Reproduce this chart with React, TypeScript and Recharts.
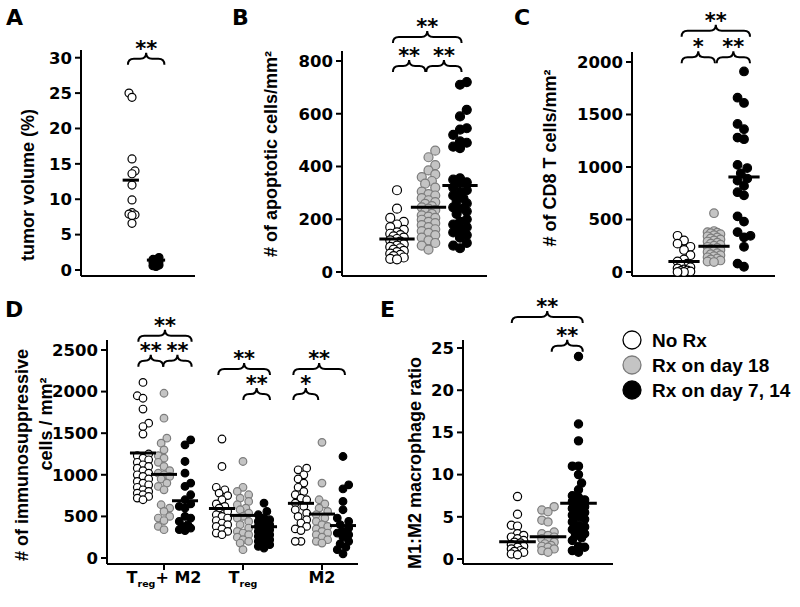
import React from 'react';
import { ScatterChart, Scatter, XAxis, YAxis, ReferenceLine } from 'recharts';

const FONT = 'DejaVu Sans, sans-serif';
const ARIAL = 'Liberation Sans, Arial, sans-serif';

// ---- legend / groups ----
const GROUP_NAMES = ['No Rx', 'Rx on day 18', 'Rx on day 7, 14'];
const FILLS = ['#ffffff', '#c4c4c4', '#000000'];
const STROKES = ['#000000', '#7c7c7c', '#000000'];

// ---- Panel A: tumor volume (%) ----
const A_NO_RX = [25.0, 24.4, 15.7, 14.0, 13.6, 12.0, 9.9, 8.1, 7.9, 7.8, 7.7, 6.6];
const A_RX_7_14 = [1.75, 1.5, 1.4, 1.2, 1.1, 0.9, 0.7, 0.6, 0.5];
const A_MEANS = [12.7, 1.4];
const A_TICKS = [0, 5, 10, 15, 20, 25, 30];

// ---- Panel B: apoptotic cells ----
const B_NO_RX = [310, 240, 205, 190, 180, 170, 160, 150, 145, 140, 135, 130, 125, 120, 115, 110, 105, 100, 95, 90, 85, 80, 75, 70, 65, 60, 55, 50, 48];
const B_RX18 = [460, 435, 405, 385, 370, 360, 345, 335, 320, 305, 295, 290, 280, 272, 265, 258, 250, 245, 240, 235, 228, 220, 215, 210, 205, 198, 190, 185, 178, 170, 162, 155, 148, 140, 130, 120, 110, 100, 85];
const B_RX_7_14 = [720, 710, 615, 590, 545, 540, 520, 495, 490, 475, 470, 355, 350, 340, 335, 320, 310, 300, 290, 280, 270, 260, 245, 240, 230, 220, 200, 190, 180, 170, 160, 150, 140, 130, 110, 100, 90];
const B_MEANS = [125, 245, 328];
const B_TICKS = [0, 200, 400, 600, 800];

// ---- Panel C: CD8 T cells ----
const C_NO_RX = [345, 300, 270, 240, 210, 160, 120, 100, 80, 60, 45, 35, 25, 15, 10, 5, 0, 0];
const C_RX18 = [560, 390, 380, 375, 370, 360, 350, 340, 330, 320, 310, 300, 290, 280, 270, 260, 250, 240, 230, 220, 210, 200, 190, 180, 170, 160, 150, 140, 130, 120, 110, 100, 95];
const C_RX_7_14 = [1910, 1660, 1610, 1410, 1360, 1280, 1265, 1020, 990, 940, 890, 870, 820, 760, 730, 530, 480, 380, 345, 330, 240, 80, 50];
const C_MEANS = [100, 245, 905];
const C_TICKS = [0, 500, 1000, 1500, 2000];

// ---- Panel D: immunosuppressive cells ----
const D_CATEGORIES = ['Treg+M2', 'Treg', 'M2'];
const D_TM_NO_RX = [2110, 1950, 1920, 1790, 1620, 1580, 1490, 1250, 1230, 1200, 1180, 1150, 1120, 1100, 1080, 1050, 1020, 1000, 980, 950, 920, 900, 880, 850, 820, 800, 780, 760, 740, 720, 700];
const D_TM_RX18 = [1980, 1680, 1440, 1380, 1300, 1230, 1200, 1150, 1100, 1050, 1020, 1000, 980, 950, 900, 860, 820, 640, 600, 560, 500, 480, 450, 380, 340];
const D_TM_RX_7_14 = [1420, 1360, 1160, 1020, 900, 860, 760, 700, 650, 620, 600, 500, 480, 440, 400, 380, 360, 340, 330];
const D_T_NO_RX = [1430, 1100, 850, 820, 780, 750, 700, 650, 620, 600, 560, 520, 500, 480, 450, 420, 400, 380, 350, 320, 300, 280];
const D_T_RX18 = [1160, 850, 800, 760, 720, 680, 640, 600, 580, 540, 500, 480, 440, 400, 360, 320, 300, 280, 250, 220, 200, 180, 100];
const D_T_RX_7_14 = [660, 560, 520, 480, 460, 440, 420, 400, 380, 360, 340, 320, 300, 280, 260, 240, 220, 200, 180, 160, 140, 120];
const D_M_NO_RX = [1080, 1060, 1000, 950, 900, 850, 800, 760, 720, 700, 660, 620, 580, 540, 500, 460, 420, 380, 350, 330, 200, 200];
const D_M_RX18 = [1390, 900, 700, 650, 600, 560, 520, 480, 440, 400, 380, 350, 320, 300, 280, 250, 220, 200, 180];
const D_M_RX_7_14 = [1220, 880, 830, 680, 580, 480, 440, 400, 360, 320, 300, 280, 250, 200, 170, 130, 100, 50];
const D_TM_MEANS = [1262, 1005, 688];
const D_T_MEANS = [595, 512, 376];
const D_M_MEANS = [657, 528, 390];
const D_TICKS = [0, 500, 1000, 1500, 2000, 2500];

// ---- Panel E: M1:M2 ratio ----
const E_NO_RX = [7.4, 5.3, 4.0, 3.9, 3.0, 2.8, 2.6, 2.4, 2.2, 2.0, 1.9, 1.7, 1.5, 1.4, 1.2, 1.0, 0.9, 0.8, 0.6, 0.5];
const E_RX18 = [6.2, 5.8, 5.6, 4.6, 4.4, 3.2, 3.0, 2.8, 2.6, 2.4, 2.2, 2.0, 1.8, 1.6, 1.5, 1.4, 1.2, 1.0, 0.8];
const E_RX_7_14 = [24, 16, 14, 11, 11, 10, 9, 8.2, 7.5, 7.3, 7, 6.8, 6.5, 6.2, 6, 5.8, 5.5, 5.2, 5, 4.7, 4.4, 4, 3.8, 3.5, 3.3, 3, 2.8, 2.5, 2.2, 1.5, 1.4, 1, 0.8];
const E_MEANS = [2.05, 2.64, 6.6];
const E_TICKS = [0, 5, 10, 15, 20, 25];

type Group = { x: number; values: number[]; kind: number };
type Mean = { x: number; value: number; half: number };
type Brace = { from: number; to: number; level: number; label: string };
interface PanelCfg {
  left: number; top: number; width: number; height: number;
  yAxisWidth: number; marginTop: number; marginRight: number; marginBottom: number; xAxisHeight: number;
  xDomain: [number, number]; yDomain: [number, number]; yTicks: number[]; xTicks: number[];
  xLabels?: boolean; groups: Group[]; means: Mean[]; braces: Brace[]; r: number; maxOff: number;
}

function swarm(vals: number[], pxY: number, r: number, maxOff: number): number[] {
  const idx = vals.map((_, i) => i).sort((a, b) => vals[a] - vals[b]);
  const placed: { x: number; y: number }[] = [];
  const out = new Array(vals.length).fill(0);
  const d = 1.8 * r;
  const step = r * 0.75;
  idx.forEach((i, n) => {
    const y = vals[i] * pxY;
    const sgn = n % 2 === 0 ? 1 : -1;
    const cands = [0];
    for (let k = 1; k * step <= maxOff + 0.01; k++) cands.push(sgn * k * step, -sgn * k * step);
    let best = 0, bestScore = -Infinity;
    for (const x of cands) {
      let minD = Infinity;
      for (const p of placed) { const dd = Math.hypot(p.x - x, p.y - y); if (dd < minD) minD = dd; }
      if (minD >= d) { best = x; break; }
      if (minD > bestScore) { bestScore = minD; best = x; }
    }
    placed.push({ x: best, y });
    out[i] = best;
  });
  return out;
}

const dot = (kind: number, r: number) => (p: any) => (
  <circle cx={p.cx} cy={p.cy} r={r} fill={FILLS[kind]} stroke={STROKES[kind]} strokeWidth={1.2} />
);

const braceShape = (label: string) => (p: any) => {
  const xa = Math.min(p.x1, p.x2), xb = Math.max(p.x1, p.x2);
  const yb = p.y1;
  const h = 12, q = 6;
  const xm = (xa + xb) / 2, ym = yb - h / 2, yt = yb - h;
  const d = `M${xa},${yb} Q${xa},${ym} ${xa + q},${ym} L${xm - q},${ym} Q${xm},${ym} ${xm},${yt} Q${xm},${ym} ${xm + q},${ym} L${xb - q},${ym} Q${xb},${ym} ${xb},${yb}`;
  return (
    <g>
      <path d={d} fill="none" stroke="#000" strokeWidth={2} />
      <text x={xm} y={yt + 3} textAnchor="middle" fontFamily={FONT} fontWeight="bold" fontSize={21} fill="#000">{label}</text>
    </g>
  );
};

const tickStyle = { fill: '#000', fontSize: 16.5, fontWeight: 'bold', fontFamily: FONT };
const axisStyle = { stroke: '#000', strokeWidth: 2 };

const DTick = (p: any) => {
  const i = Math.round(p.payload.value);
  const y = p.y + 11;
  if (i === 0) return (
    <text x={p.x} y={y} textAnchor="middle" fontFamily={FONT} fontWeight="bold" fontSize={16} fill="#000">
      <tspan>T</tspan><tspan fontSize={9.5} dy={4}>reg</tspan><tspan dy={-4}>+ M2</tspan>
    </text>
  );
  if (i === 1) return (
    <text x={p.x} y={y} textAnchor="middle" fontFamily={FONT} fontWeight="bold" fontSize={16} fill="#000">
      <tspan>T</tspan><tspan fontSize={9.5} dy={4}>reg</tspan>
    </text>
  );
  return (
    <text x={p.x} y={y} textAnchor="middle" fontFamily={FONT} fontWeight="bold" fontSize={16} fill="#000">{D_CATEGORIES[i]}</text>
  );
};

function Panel({ cfg }: { cfg: PanelCfg }) {
  const plotW = cfg.width - cfg.yAxisWidth - cfg.marginRight;
  const plotH = cfg.height - cfg.marginTop - cfg.marginBottom - cfg.xAxisHeight;
  const pxX = plotW / (cfg.xDomain[1] - cfg.xDomain[0]);
  const pxY = plotH / (cfg.yDomain[1] - cfg.yDomain[0]);
  return (
    <div style={{ position: 'absolute', left: cfg.left, top: cfg.top }}>
      <ScatterChart width={cfg.width} height={cfg.height}
        margin={{ top: cfg.marginTop, right: cfg.marginRight, bottom: cfg.marginBottom, left: 0 }}>
        <XAxis type="number" dataKey="x" domain={cfg.xDomain} ticks={cfg.xTicks} allowDataOverflow
          height={cfg.xAxisHeight} axisLine={axisStyle} tickLine={axisStyle} tickSize={6} interval={0}
          tick={cfg.xLabels ? DTick : false} />
        <YAxis type="number" dataKey="y" domain={cfg.yDomain} ticks={cfg.yTicks} allowDataOverflow
          width={cfg.yAxisWidth} axisLine={axisStyle} tickLine={axisStyle} tickSize={6} tickMargin={3}
          interval={0} tick={tickStyle} />
        {cfg.groups.map((g, gi) => {
          const offs = swarm(g.values, pxY, cfg.r, cfg.maxOff);
          const data = g.values.map((v, i) => ({ x: g.x + offs[i] / pxX, y: v }));
          return <Scatter key={'g' + gi} data={data} shape={dot(g.kind, cfg.r)} isAnimationActive={false} />;
        })}
        {cfg.means.map((m, mi) => (
          <ReferenceLine key={'m' + mi} segment={[{ x: m.x - m.half, y: m.value }, { x: m.x + m.half, y: m.value }]}
            stroke="#000" strokeWidth={3} ifOverflow="visible" zIndex={1000} />
        ))}
        {cfg.braces.map((b, bi) => (
          <ReferenceLine key={'b' + bi} segment={[{ x: b.from, y: b.level }, { x: b.to, y: b.level }]}
            ifOverflow="visible" shape={braceShape(b.label)} />
        ))}
      </ScatterChart>
    </div>
  );
}

const three = (vals: number[][], means: number[], base: number, spacing: number, half: number) => ({
  groups: vals.map((v, k) => ({ x: base + (k - 1) * spacing, values: v, kind: k })),
  means: means.map((m, k) => ({ x: base + (k - 1) * spacing, value: m, half })),
});

const panelA: PanelCfg = {
  left: 0, top: 0, width: 210, height: 290, yAxisWidth: 81, marginTop: 50, marginRight: 15, marginBottom: 0, xAxisHeight: 14,
  xDomain: [-2.125, 2.625], yDomain: [-0.848, 31.09], yTicks: A_TICKS, xTicks: [0.5],
  groups: [{ x: 0, values: A_NO_RX, kind: 0 }, { x: 1, values: A_RX_7_14, kind: 2 }],
  means: [{ x: -0.05, value: A_MEANS[0], half: 0.34 }, { x: 1.0, value: A_MEANS[1], half: 0.38 }],
  braces: [{ from: -0.17, to: 1.35, level: 29.0, label: '**' }],
  r: 4, maxOff: 5,
};

const bParts = three([B_NO_RX, B_RX18, B_RX_7_14], B_MEANS, 1, 1, 0.56);
const panelB: PanelCfg = {
  left: 260, top: 0, width: 240, height: 290, yAxisWidth: 82, marginTop: 51, marginRight: 13, marginBottom: 0, xAxisHeight: 14,
  xDomain: [-1.746, 2.857], yDomain: [-15.2, 837.9], yTicks: B_TICKS, xTicks: [1],
  ...bParts,
  braces: [
    { from: -0.13, to: 2.05, level: 868, label: '**' },
    { from: -0.13, to: 0.9, level: 758, label: '**' },
    { from: 0.93, to: 2.05, level: 758, label: '**' },
  ],
  r: 4.5, maxOff: 7,
};

const cParts = three([C_NO_RX, C_RX18, C_RX_7_14], C_MEANS, 1, 1, 0.52);
const panelC: PanelCfg = {
  left: 520, top: 0, width: 270, height: 290, yAxisWidth: 112, marginTop: 52, marginRight: 15, marginBottom: 0, xAxisHeight: 14,
  xDomain: [-1.733, 3.033], yDomain: [-38, 2095], yTicks: C_TICKS, xTicks: [1],
  ...cParts,
  braces: [
    { from: -0.08, to: 2.2, level: 2241, label: '**' },
    { from: -0.08, to: 1.03, level: 1988, label: '*' },
    { from: 1.09, to: 2.2, level: 1988, label: '**' },
  ],
  r: 4.3, maxOff: 7,
};

const DSP = 0.266;
const dTM = three([D_TM_NO_RX, D_TM_RX18, D_TM_RX_7_14], D_TM_MEANS, 0, DSP, 0.165);
const dT = three([D_T_NO_RX, D_T_RX18, D_T_RX_7_14], D_T_MEANS, 1, DSP, 0.165);
const dM = three([D_M_NO_RX, D_M_RX18, D_M_RX_7_14], D_M_MEANS, 2, DSP, 0.165);
const panelD: PanelCfg = {
  left: 0, top: 290, width: 370, height: 317, yAxisWidth: 107, marginTop: 50, marginRight: 12, marginBottom: 13, xAxisHeight: 30,
  xDomain: [-0.7215, 2.456], yDomain: [-72, 2620], yTicks: D_TICKS, xTicks: [0, 1, 2], xLabels: true,
  groups: [...dTM.groups, ...dT.groups, ...dM.groups],
  means: [...dTM.means, ...dT.means, ...dM.means],
  braces: [
    { from: -0.325, to: 0.35, level: 2600, label: '**' },
    { from: -0.325, to: -0.01, level: 2299, label: '**' },
    { from: -0.01, to: 0.35, level: 2299, label: '**' },
    { from: 0.687, to: 1.342, level: 2200, label: '**' },
    { from: 1.004, to: 1.342, level: 1899, label: '**' },
    { from: 1.637, to: 2.291, level: 2200, label: '**' },
    { from: 1.637, to: 1.953, level: 1899, label: '*' },
  ],
  r: 3.8, maxOff: 6,
};

const eParts = three([E_NO_RX, E_RX18, E_RX_7_14], E_MEANS, 1, 1, 0.6);
const panelE: PanelCfg = {
  left: 390, top: 290, width: 238, height: 317, yAxisWidth: 73, marginTop: 50, marginRight: 15, marginBottom: 13, xAxisHeight: 30,
  xDomain: [-1.787, 3.131], yDomain: [-0.59, 25.95], yTicks: E_TICKS, xTicks: [1],
  ...eParts,
  braces: [
    { from: -0.19, to: 2.14, level: 27.96, label: '**' },
    { from: 1.12, to: 2.14, level: 24.56, label: '**' },
  ],
  r: 4.1, maxOff: 7,
};

const LETTERS = [
  { t: 'A', x: 6, y: 25 }, { t: 'B', x: 232, y: 25 }, { t: 'C', x: 514, y: 25 },
  { t: 'D', x: 5, y: 317 }, { t: 'E', x: 380, y: 317 },
];
const YLABELS = [
  { t: 'tumor volume (%)', x: 28, y: 185 },
  { t: '# of apoptotic cells/mm²', x: 271, y: 154 },
  { t: '# of CD8 T cells/mm²', x: 550, y: 158 },
  { t: '# of immunosuppressive', x: 22, y: 455 },
  { t: 'cells / mm²', x: 46, y: 424 },
  { t: 'M1:M2 macrophage ratio', x: 415, y: 463 },
];

export default function App() {
  return (
    <div style={{ position: 'absolute', left: 0, top: 0, width: 800, height: 607, background: '#fff', overflow: 'hidden' }}>
      <Panel cfg={panelA} />
      <Panel cfg={panelB} />
      <Panel cfg={panelC} />
      <Panel cfg={panelD} />
      <Panel cfg={panelE} />
      <svg width={800} height={607} style={{ position: 'absolute', left: 0, top: 0, pointerEvents: 'none' }}>
        {LETTERS.map((l) => (
          <text key={l.t} x={l.x} y={l.y} fontFamily={FONT} fontWeight="bold" fontSize={22} fill="#000">{l.t}</text>
        ))}
        {YLABELS.map((l) => (
          <text key={l.t} x={l.x} y={l.y} transform={`rotate(-90, ${l.x}, ${l.y})`} textAnchor="middle"
            dominantBaseline="central" fontFamily={ARIAL} fontWeight="bold" fontSize={18} fill="#000">{l.t}</text>
        ))}
        {GROUP_NAMES.map((n, i) => (
          <g key={n}>
            <circle cx={632} cy={340 + i * 25} r={9} fill={FILLS[i]} stroke={STROKES[i]} strokeWidth={1.3} />
            <text x={652} y={340 + i * 25} dominantBaseline="central" fontFamily={ARIAL} fontWeight="bold" fontSize={19} fill="#000">{n}</text>
          </g>
        ))}
      </svg>
    </div>
  );
}
